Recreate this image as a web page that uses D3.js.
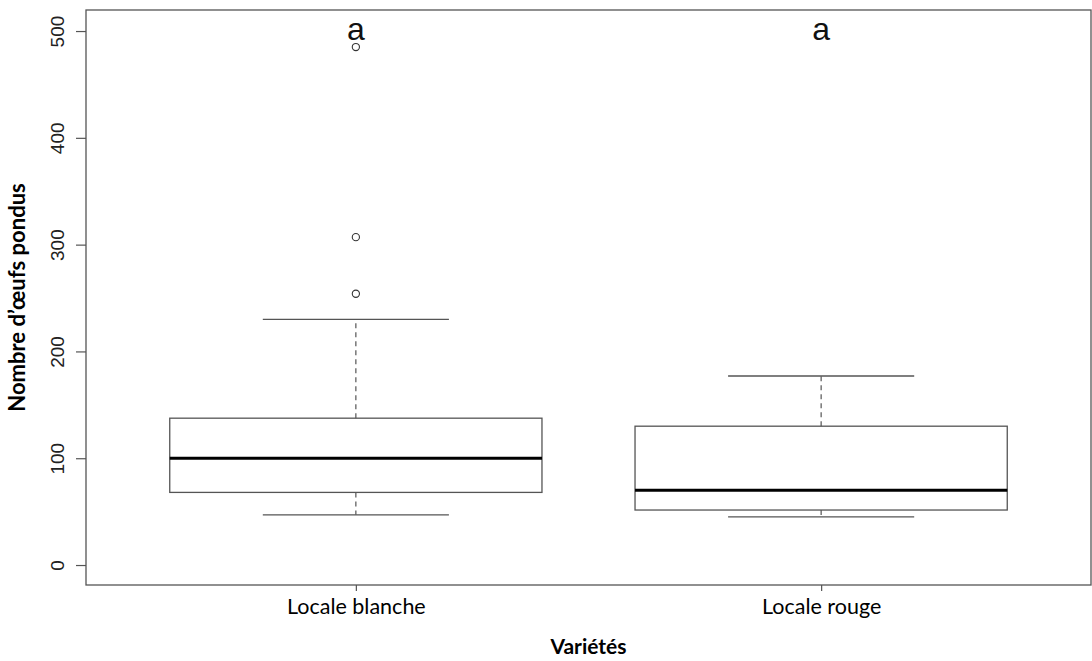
<!DOCTYPE html>
<html>
<head>
<meta charset="utf-8">
<script src="https://cdn.jsdelivr.net/npm/d3@7"></script>
<style>
  body { margin: 0; background: #fff; }
  svg { display: block; }
</style>
</head>
<body>
<div id="chart"></div>
<script>
// Données
const varietes = ["Locale blanche", "Locale rouge"];
const minimums = [47, 45];
const q1s = [68, 51.5];
const medianes = [100, 70];
const q3s = [137.5, 130];
const maximums = [230, 177];
const aberrants = [[254, 307, 485], []];
const lettres = ["a", "a"];
const yTicks = [0, 100, 200, 300, 400, 500];

const width = 1092, height = 661;
const mLeft = 86, mRight = 1091, mTop = 10, mBottom = 585;

const svg = d3.select("#chart")
  .append("svg")
  .attr("width", width)
  .attr("height", height);

// Échelles (comme R : xlim 0.5..2.5 étendu de 4 %)
const x = d3.scaleLinear().domain([0.42, 2.58]).range([mLeft, mRight]);
const y = d3.scaleLinear().domain([-18.7, 519.7]).range([mBottom, mTop]);

const gris = "#555";

// Boîtes
varietes.forEach((v, i) => {
  const cx = x(i + 1);
  const hw = x(i + 1.4) - cx;   // demi-largeur de boîte
  const cw = x(i + 1.2) - cx;   // demi-largeur des moustaches
  const g = svg.append("g");

  // moustaches pointillées
  g.append("line")
    .attr("x1", cx).attr("x2", cx)
    .attr("y1", y(q3s[i])).attr("y2", y(maximums[i]))
    .attr("stroke", gris).attr("stroke-width", 1.2).attr("stroke-dasharray", "5,4");
  g.append("line")
    .attr("x1", cx).attr("x2", cx)
    .attr("y1", y(q1s[i])).attr("y2", y(minimums[i]))
    .attr("stroke", gris).attr("stroke-width", 1.2).attr("stroke-dasharray", "5,4");

  // extrémités
  [minimums[i], maximums[i]].forEach(val => {
    g.append("line")
      .attr("x1", cx - cw).attr("x2", cx + cw)
      .attr("y1", y(val)).attr("y2", y(val))
      .attr("stroke", gris).attr("stroke-width", 1.3);
  });

  // boîte
  g.append("rect")
    .attr("x", cx - hw)
    .attr("y", y(q3s[i]))
    .attr("width", 2 * hw)
    .attr("height", y(q1s[i]) - y(q3s[i]))
    .attr("fill", "none")
    .attr("stroke", gris)
    .attr("stroke-width", 1.3);

  // médiane
  g.append("line")
    .attr("x1", cx - hw).attr("x2", cx + hw)
    .attr("y1", y(medianes[i])).attr("y2", y(medianes[i]))
    .attr("stroke", "#000").attr("stroke-width", 3);

  // valeurs aberrantes
  g.selectAll("circle")
    .data(aberrants[i])
    .join("circle")
    .attr("cx", cx)
    .attr("cy", d => y(d))
    .attr("r", 3.6)
    .attr("fill", "none")
    .attr("stroke", "#333")
    .attr("stroke-width", 1.1);

  // lettres de groupe
  svg.append("text")
    .attr("x", cx)
    .attr("y", 40)
    .attr("text-anchor", "middle")
    .attr("font-family", "'Liberation Sans', Arial, sans-serif")
    .attr("font-size", 32)
    .attr("fill", "#111")
    .text(lettres[i]);
});

// Cadre
svg.append("rect")
  .attr("x", mLeft).attr("y", mTop)
  .attr("width", mRight - mLeft).attr("height", mBottom - mTop)
  .attr("fill", "none")
  .attr("stroke", gris)
  .attr("stroke-width", 1.3);

// Axe Y
const yAxis = svg.append("g")
  .attr("transform", `translate(${mLeft},0)`)
  .call(d3.axisLeft(y).tickValues(yTicks).tickSize(10).tickSizeOuter(0));
yAxis.select(".domain").remove();
yAxis.selectAll(".tick line").attr("stroke", gris).attr("stroke-width", 1.2);
yAxis.selectAll(".tick text")
  .attr("font-family", "'Liberation Sans', Arial, sans-serif")
  .attr("font-size", 19)
  .attr("fill", "#222")
  .attr("transform", "rotate(-90)")
  .attr("x", 0)
  .attr("y", -22)
  .attr("dy", 0)
  .attr("text-anchor", "middle");

// Axe X
const xAxis = svg.append("g")
  .attr("transform", `translate(0,${mBottom})`)
  .call(d3.axisBottom(x).tickValues([1, 2]).tickFormat((d, i) => varietes[i]).tickSize(6).tickSizeOuter(0));
xAxis.select(".domain").remove();
xAxis.selectAll(".tick line").attr("stroke", gris).attr("stroke-width", 1.2);
xAxis.selectAll(".tick text")
  .attr("font-family", "Lato, Carlito, sans-serif")
  .attr("font-size", 21.5)
  .attr("fill", "#000")
  .attr("y", 14)
  .attr("dy", "0.71em");

// Titres des axes
svg.append("text")
  .attr("x", (mLeft + mRight) / 2)
  .attr("y", 654)
  .attr("text-anchor", "middle")
  .attr("font-family", "Lato, Carlito, sans-serif")
  .attr("font-weight", "bold")
  .attr("font-size", 21)
  .text("Variétés");

svg.append("text")
  .attr("transform", `translate(25,${(mTop + mBottom) / 2}) rotate(-90)`)
  .attr("text-anchor", "middle")
  .attr("font-family", "Lato, Carlito, sans-serif")
  .attr("font-weight", "bold")
  .attr("font-size", 22)
  .text("Nombre d’œufs pondus");
</script>
</body>
</html>
